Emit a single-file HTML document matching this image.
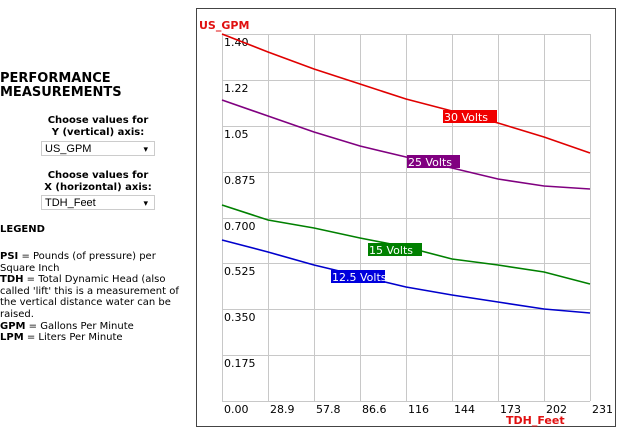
<!DOCTYPE html>
<html><head><meta charset="utf-8"><style>
body{margin:0;width:620px;height:433px;background:#fff;font-family:Verdana,"DejaVu Sans",sans-serif;overflow:hidden;position:relative}
.l{position:absolute;font-size:10px;color:#000}
.sel{position:absolute;left:41px;height:15px;border:1px solid #ccc;font-family:"Liberation Sans",sans-serif;font-size:11px;line-height:15px;padding-left:3px;box-sizing:border-box;width:114px}
.sel:after{content:"▾";position:absolute;right:6px;top:0;font-size:9px}
</style></head><body>
<div class="l" style="left:0;top:72px;font-size:13px;font-weight:bold;line-height:14px">PERFORMANCE<br>MEASUREMENTS</div>
<div class="l" style="left:0;width:196px;top:115px;text-align:center;font-weight:bold;line-height:12px">Choose values for<br>Y (vertical) axis:</div>
<div class="sel" style="top:141px">US_GPM</div>
<div class="l" style="left:0;width:196px;top:170px;text-align:center;font-weight:bold;line-height:12px">Choose values for<br>X (horizontal) axis:</div>
<div class="sel" style="top:195px">TDH_Feet</div>
<div class="l" style="left:0;top:224px;font-weight:bold">LEGEND</div>
<div class="l" style="left:0;top:251px;line-height:11.6px;width:184px"><b>PSI</b> = Pounds (of pressure) per Square Inch<br><b>TDH</b> = Total Dynamic Head (also called 'lift' this is a measurement of the vertical distance water can be raised.<br><b>GPM</b> = Gallons Per Minute<br><b>LPM</b> = Liters Per Minute</div>
<svg width="620" height="433" style="position:absolute;left:0;top:0" font-family="Verdana,DejaVu Sans,sans-serif">
<rect x="196.5" y="8.5" width="419" height="418" fill="none" stroke="#444"/>
<g stroke="#c8c8c8" stroke-width="1">
<line x1="222.5" y1="34" x2="222.5" y2="401"/><line x1="268.5" y1="34" x2="268.5" y2="401"/><line x1="314.5" y1="34" x2="314.5" y2="401"/><line x1="360.5" y1="34" x2="360.5" y2="401"/><line x1="406.5" y1="34" x2="406.5" y2="401"/><line x1="452.5" y1="34" x2="452.5" y2="401"/><line x1="498.5" y1="34" x2="498.5" y2="401"/><line x1="544.5" y1="34" x2="544.5" y2="401"/><line x1="590.5" y1="34" x2="590.5" y2="401"/>
<line x1="222" y1="34.5" x2="590" y2="34.5"/><line x1="222" y1="80.5" x2="590" y2="80.5"/><line x1="222" y1="126.5" x2="590" y2="126.5"/><line x1="222" y1="172.5" x2="590" y2="172.5"/><line x1="222" y1="218.5" x2="590" y2="218.5"/><line x1="222" y1="263.5" x2="590" y2="263.5"/><line x1="222" y1="309.5" x2="590" y2="309.5"/><line x1="222" y1="355.5" x2="590" y2="355.5"/><line x1="222" y1="401.5" x2="590" y2="401.5"/>
</g>
<g font-size="11" fill="#000">
<text x="224" y="46">1.40</text><text x="224" y="92">1.22</text><text x="224" y="138">1.05</text><text x="224" y="184">0.875</text><text x="224" y="230">0.700</text><text x="224" y="275">0.525</text><text x="224" y="321">0.350</text><text x="224" y="367">0.175</text>
<text x="224" y="413">0.00</text><text x="270" y="413">28.9</text><text x="316" y="413">57.8</text><text x="362" y="413">86.6</text><text x="408" y="413">116</text><text x="454" y="413">144</text><text x="500" y="413">173</text><text x="546" y="413">202</text><text x="592" y="413">231</text>
</g>
<text x="199" y="29" font-size="11" font-weight="bold" fill="#e01010">US_GPM</text>
<text x="506" y="424" font-size="11" font-weight="bold" fill="#e01010">TDH_Feet</text>
<g fill="none" stroke-width="1.6">
<polyline stroke="#e00000" points="222,34 268,52 314,69 360,84 406,99 452,111 498,123 544,137 590,153"/>
<polyline stroke="#800080" points="222,100 268,116 314,132 360,146 406,157 452,168 498,179 544,186 590,189"/>
<polyline stroke="#008000" points="222,205 268,220 314,228 360,238 406,247 452,259 498,265 544,272 590,284"/>
<polyline stroke="#0000cc" points="222,240 268,252 314,265 360,276 406,287 452,295 498,302 544,309 590,313"/>
</g>
<g font-size="11" fill="#fff">
<rect x="443" y="110" width="54" height="13" fill="#f00000"/><text x="444" y="121">30 Volts</text>
<rect x="407" y="155" width="53" height="13" fill="#800080"/><text x="408" y="166">25 Volts</text>
<rect x="368" y="243" width="54" height="13" fill="#008000"/><text x="369" y="254">15 Volts</text>
<rect x="331" y="270" width="54" height="13" fill="#0000dd"/><text x="332" y="281">12.5 Volts</text>
</g>
</svg>
</body></html>
